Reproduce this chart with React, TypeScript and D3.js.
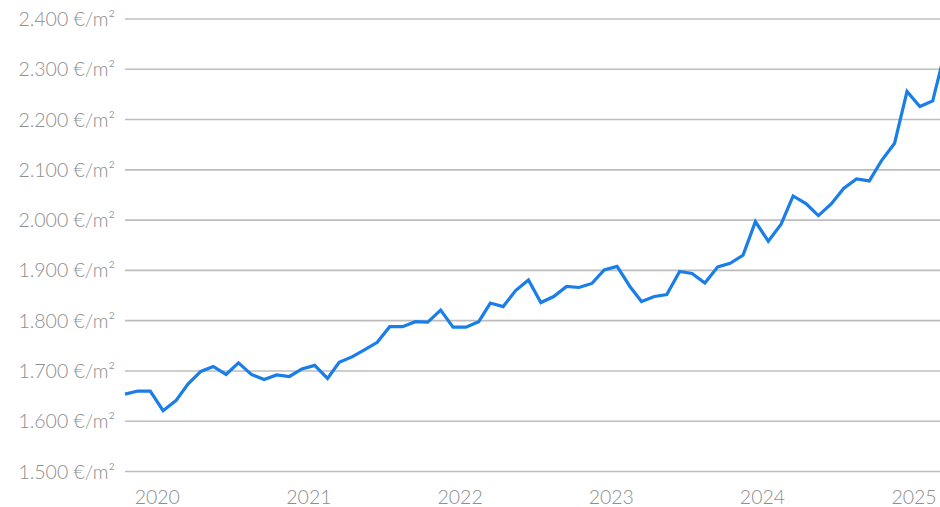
import React from "react";
import * as d3 from "d3";

const months: string[] = [
  "2019-10","2019-11","2019-12",
  "2020-01","2020-02","2020-03","2020-04","2020-05","2020-06","2020-07","2020-08","2020-09","2020-10","2020-11","2020-12",
  "2021-01","2021-02","2021-03","2021-04","2021-05","2021-06","2021-07","2021-08","2021-09","2021-10","2021-11","2021-12",
  "2022-01","2022-02","2022-03","2022-04","2022-05","2022-06","2022-07","2022-08","2022-09","2022-10","2022-11","2022-12",
  "2023-01","2023-02","2023-03","2023-04","2023-05","2023-06","2023-07","2023-08","2023-09","2023-10","2023-11","2023-12",
  "2024-01","2024-02","2024-03","2024-04","2024-05","2024-06","2024-07","2024-08","2024-09","2024-10","2024-11","2024-12",
  "2025-01","2025-02","2025-03",
];

const prices: number[] = [
  1654, 1660, 1660,
  1621, 1641, 1674, 1699, 1709, 1693, 1716, 1693, 1683, 1692, 1689, 1704,
  1711, 1685, 1717, 1728, 1742, 1757, 1788, 1788, 1798, 1797, 1821, 1787,
  1787, 1798, 1835, 1828, 1860, 1881, 1836, 1848, 1868, 1866, 1874, 1901,
  1908, 1868, 1838, 1848, 1852, 1898, 1894, 1875, 1907, 1914, 1930, 1997,
  1958, 1992, 2048, 2033, 2009, 2032, 2063, 2082, 2078, 2119, 2153, 2256,
  2226, 2237, 2330,
];

const yTicks: number[] = [1500, 1600, 1700, 1800, 1900, 2000, 2100, 2200, 2300, 2400];
const yearTicks: number[] = [2020, 2021, 2022, 2023, 2024, 2025];

const W = 940;
const H = 507;

const parseMonth = (m: string) => {
  const [y, mo] = m.split("-").map(Number);
  return new Date(y, mo - 1, 15);
};

const fmt = (v: number) => {
  const s = String(v);
  return s.slice(0, s.length - 3) + "." + s.slice(s.length - 3) + " €/m²";
};

export default function App() {
  const dates = months.map(parseMonth);
  const x = d3
    .scaleTime()
    .domain([dates[0], dates[dates.length - 2]])
    .range([125, 932.7]);
  const y = d3.scaleLinear().domain([1500, 2400]).range([471.5, 19]);

  const line = d3
    .line<number>()
    .x((_, i) => x(dates[i]))
    .y((d) => y(d))
    .curve(d3.curveLinear);

  const font = "Lato, 'Noto Sans', sans-serif";

  return (
    <div style={{ position: "absolute", left: 0, top: 0, width: W, height: H, overflow: "hidden", background: "#fff" }}>
      <svg width={W} height={H} style={{ display: "block" }}>
        <defs>
          <clipPath id="plot">
            <rect x={0} y={0} width={W} height={H} />
          </clipPath>
        </defs>
        {yTicks.map((t) => (
          <g key={t}>
            <line x1={125} x2={W} y1={y(t)} y2={y(t)} stroke="#bdbdbd" strokeWidth={1.6} />
            <text
              x={115}
              y={y(t)}
              dy="0.36em"
              textAnchor="end"
              fontFamily={font}
              fontWeight={300}
              fontSize={19.5}
              fill="#8e8e8e"
            >
              {fmt(t)}
            </text>
          </g>
        ))}
        {yearTicks.map((yr) => (
          <text
            key={yr}
            x={x(new Date(yr, 0, 1))}
            y={504}
            textAnchor="middle"
            fontFamily={font}
            fontWeight={300}
            fontSize={19.5}
            fill="#8e8e8e"
          >
            {yr}
          </text>
        ))}
        <path
          d={line(prices) || ""}
          fill="none"
          stroke="#1a7ee8"
          strokeWidth={3.2}
          strokeLinejoin="miter"
          clipPath="url(#plot)"
        />
      </svg>
    </div>
  );
}
